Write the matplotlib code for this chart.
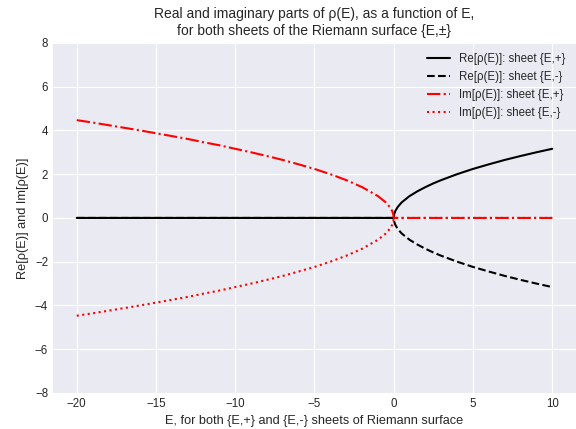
import matplotlib
matplotlib.use('Agg')
import matplotlib.pyplot as plt
import numpy as np

# Energies (left branch, then right branch)
e_neg = [-20, -19, -18, -17, -16, -15, -14, -13, -12, -11, -10, -9, -8, -7,
         -6, -5, -4, -3, -2, -1, -0.5, -0.25, -0.1, -0.03, 0]
e_pos = [0, 0.03, 0.1, 0.25, 0.5, 1, 1.5, 2, 2.5, 3, 4, 5, 6, 7, 8, 9, 10]

# Magnitude of the curves
mag_neg = [4.47, 4.36, 4.24, 4.12, 4.00, 3.87, 3.74, 3.61, 3.46, 3.32, 3.16,
           3.00, 2.83, 2.65, 2.45, 2.24, 2.00, 1.73, 1.41, 1.00, 0.71, 0.50,
           0.32, 0.17, 0.0]
mag_pos = [0.0, 0.17, 0.32, 0.50, 0.71, 1.00, 1.22, 1.41, 1.58, 1.73, 2.00,
           2.24, 2.45, 2.65, 2.83, 3.00, 3.16]

E = np.array(e_neg + e_pos[1:])
re_plus = np.array([0.0] * len(e_neg) + mag_pos[1:])
re_minus = -re_plus
im_plus = np.array(mag_neg + [0.0] * (len(e_pos) - 1))
im_minus = -im_plus

plt.style.use('seaborn-v0_8-darkgrid')
plt.rcParams['font.family'] = ['Liberation Sans', 'DejaVu Sans']
plt.rcParams['axes.titlesize'] = 10
plt.rcParams['axes.labelsize'] = 9.2
plt.rcParams['xtick.labelsize'] = 8.3
plt.rcParams['ytick.labelsize'] = 8.3
plt.rcParams['legend.fontsize'] = 8.3

fig, ax = plt.subplots(figsize=(5.76, 4.29), dpi=100)
fig.subplots_adjust(left=0.092, right=1.0, bottom=0.084, top=0.90)

ax.plot(E, re_plus, color='black', linestyle='-', lw=1.5, label='Re[ρ(E)]: sheet {E,+}')
ax.plot(E, re_minus, color='black', linestyle='--', lw=1.5, label='Re[ρ(E)]: sheet {E,-}')
ax.plot(E, im_plus, color='red', linestyle='-.', lw=1.5, label='Im[ρ(E)]: sheet {E,+}')
ax.plot(E, im_minus, color='red', linestyle=':', lw=1.5, label='Im[ρ(E)]: sheet {E,-}')

ax.set_ylim(-8, 8)
ax.set_xlabel('E, for both {E,+} and {E,-} sheets of Riemann surface')
ax.set_ylabel('Re[ρ(E)] and Im[ρ(E)]')
ax.set_title('Real and imaginary parts of ρ(E), as a function of E,\nfor both sheets of the Riemann surface {E,±}')
ax.legend(loc='upper right')

plt.savefig('out.png', dpi=100)
